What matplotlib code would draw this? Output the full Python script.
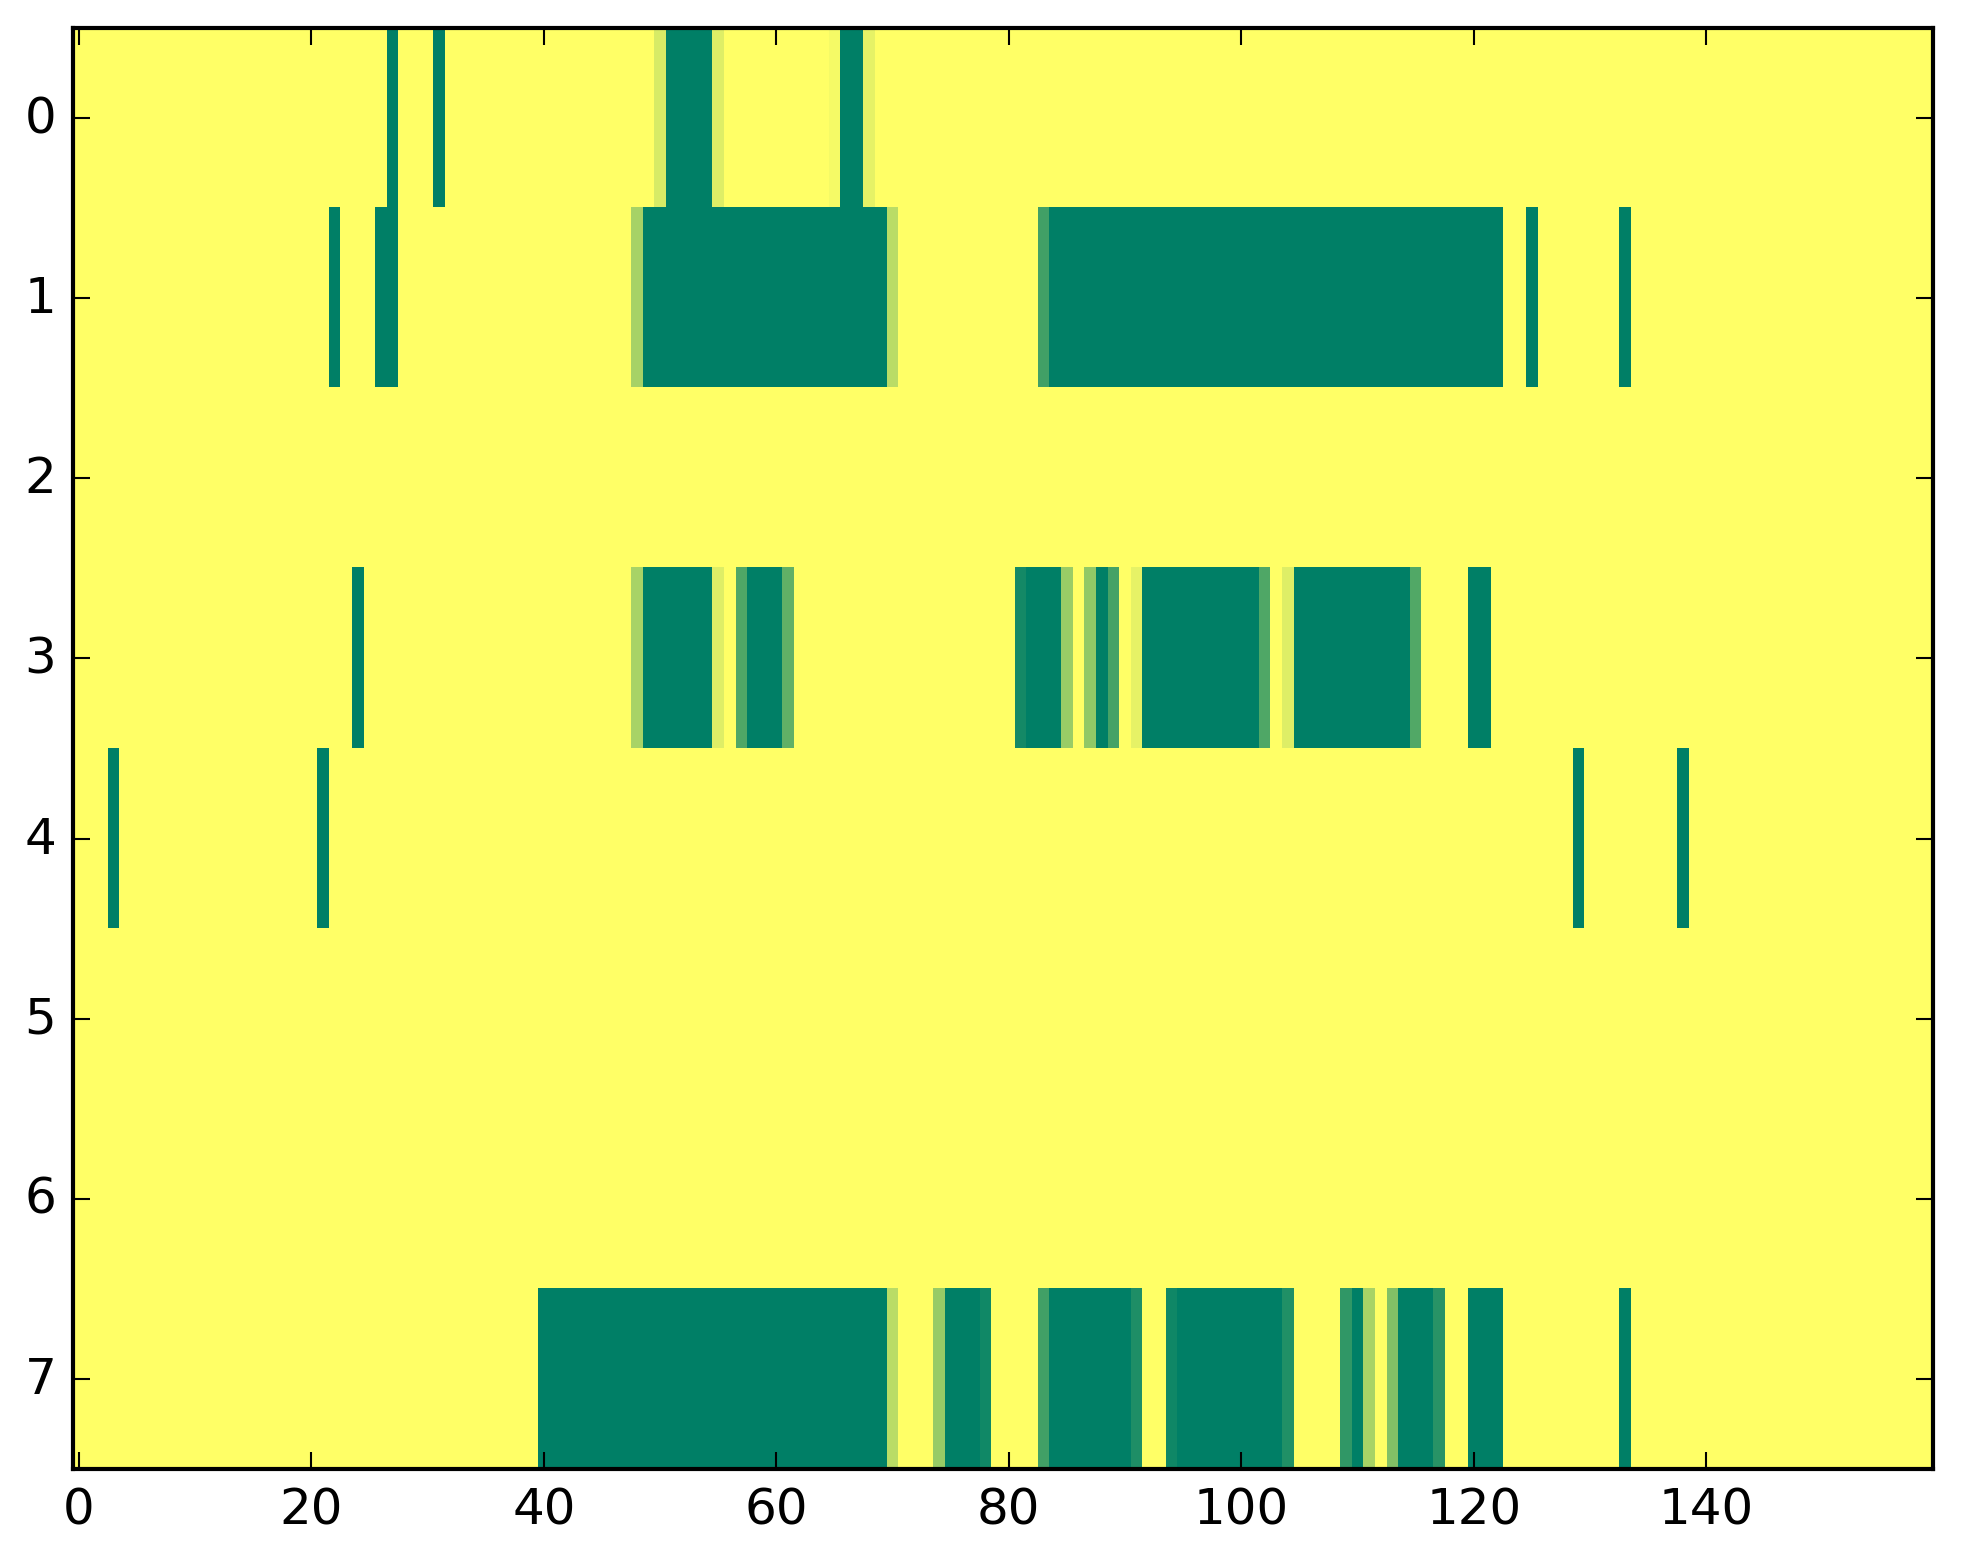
import numpy as np
import matplotlib
matplotlib.use("Agg")
import matplotlib.pyplot as plt

plt.style.use("classic")

N_ROWS = 8
N_COLS = 160

# runs per row: (first column, last column, value)
row0 = [(27, 27, 1), (31, 31, 1), (50, 50, 0.16), (51, 54, 1), (55, 55, 0.13),
        (65, 65, 0.04), (66, 67, 1), (68, 68, 0.1)]
row1 = [(22, 22, 1), (26, 27, 1), (48, 48, 0.35), (49, 69, 1), (70, 70, 0.27),
        (83, 83, 0.74), (84, 122, 1), (125, 125, 1), (133, 133, 1)]
row2 = []
row3 = [(24, 24, 1), (48, 48, 0.34), (49, 54, 1), (55, 55, 0.13), (57, 57, 0.69),
        (58, 60, 1), (61, 61, 0.62), (81, 81, 0.92), (82, 84, 1), (85, 85, 0.4),
        (87, 87, 0.43), (88, 88, 1), (89, 89, 0.73), (91, 91, 0.1), (92, 101, 1),
        (102, 102, 0.69), (104, 104, 0.13), (105, 114, 1), (115, 115, 0.68),
        (120, 121, 1)]
row4 = [(3, 3, 1), (21, 21, 1), (129, 129, 1), (138, 138, 1)]
row5 = []
row6 = []
row7 = [(40, 69, 1), (70, 70, 0.27), (74, 74, 0.41), (75, 77, 1), (78, 78, 0.93),
        (83, 83, 0.74), (84, 90, 1), (91, 91, 0.88), (94, 94, 0.94), (95, 103, 1),
        (104, 104, 0.87), (109, 109, 0.81), (110, 110, 1), (111, 111, 0.34),
        (113, 113, 0.49), (114, 116, 1), (117, 117, 0.84), (120, 122, 1),
        (133, 133, 1)]

rows = [row0, row1, row2, row3, row4, row5, row6, row7]

data = np.zeros((N_ROWS, N_COLS))
for i, runs in enumerate(rows):
    for a, b, v in runs:
        data[i, a:b + 1] = v

fig = plt.figure(figsize=(1963 / 300, 1564 / 300), dpi=300, facecolor="white")
ax = fig.add_axes([0.0372, 0.0600, 0.9475, 0.9215])
ax.imshow(data, cmap="summer_r", vmin=0, vmax=1, aspect="auto",
          interpolation="nearest")
ax.set_xlim(-0.5, N_COLS - 0.5)
ax.set_ylim(N_ROWS - 0.5, -0.5)
ax.set_xticks(np.arange(0, 141, 20))
ax.set_yticks(np.arange(0, 8))

fig.savefig("out.png", dpi=300, facecolor="white")
